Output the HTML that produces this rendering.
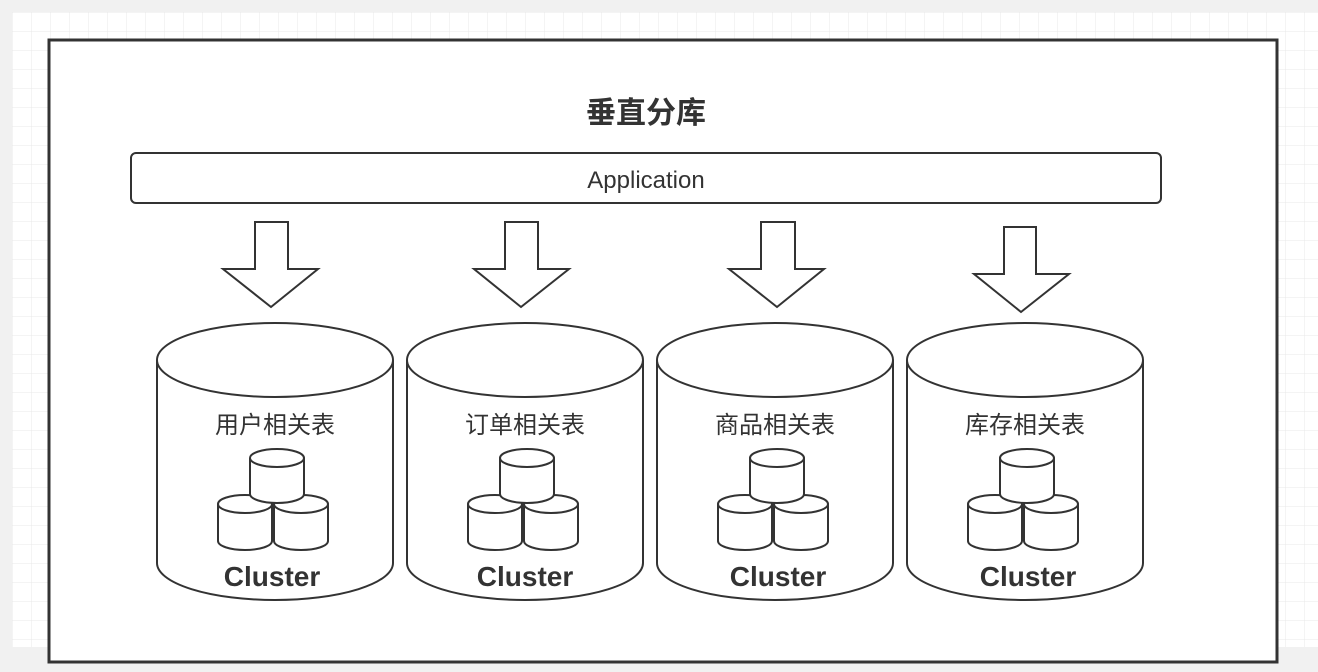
<!DOCTYPE html>
<html><head><meta charset="utf-8"><style>
html,body{margin:0;padding:0;background:#f1f1f1;}
svg{display:block}
text{font-family:"Liberation Sans","Noto Sans CJK SC",sans-serif;fill:#333}
</style></head><body>
<svg width="1318" height="672" viewBox="0 0 1318 672" xmlns="http://www.w3.org/2000/svg">
<defs>
<pattern id="g" x="12" y="12" width="19" height="19" patternUnits="userSpaceOnUse">
<rect width="19" height="19" fill="#fff"/>
<path d="M0 0H19M0 0V19" stroke="#e8e8e8" stroke-width="1"/>
</pattern>
</defs>
<rect x="12" y="12" width="1306" height="635" fill="url(#g)"/>
<rect x="49" y="40" width="1228" height="622" fill="#fff" stroke="#333" stroke-width="3"/>
<text x="646" y="123" font-size="30" font-weight="bold" text-anchor="middle">垂直分库</text>
<rect x="131" y="153" width="1030" height="50" rx="5" fill="#fff" stroke="#333" stroke-width="2"/>
<text x="646" y="188" font-size="24" text-anchor="middle">Application</text>
<g fill="#fff" stroke="#333" stroke-width="2">
<path d="M255 222H288V269H318L271 307L223 269H255Z"/>
<path d="M505 222H538V269H569L521 307L474 269H505Z"/>
<path d="M761 222H795V269H824L777 307L729 269H761Z"/>
<path d="M1004 227H1036V274H1069L1021 312L974 274H1004Z"/>
</g>
<g fill="#fff" stroke="#333" stroke-width="2">
<path d="M157 360A118 37 0 0 1 393 360V563A118 37 0 0 1 157 563Z"/>
<path d="M157 360A118 37 0 0 0 393 360"/>
<path d="M407 360A118 37 0 0 1 643 360V563A118 37 0 0 1 407 563Z"/>
<path d="M407 360A118 37 0 0 0 643 360"/>
<path d="M657 360A118 37 0 0 1 893 360V563A118 37 0 0 1 657 563Z"/>
<path d="M657 360A118 37 0 0 0 893 360"/>
<path d="M907 360A118 37 0 0 1 1143 360V563A118 37 0 0 1 907 563Z"/>
<path d="M907 360A118 37 0 0 0 1143 360"/>
</g>
<g font-size="24" text-anchor="middle">
<text x="275" y="433">用户相关表</text>
<text x="525" y="433">订单相关表</text>
<text x="775" y="433">商品相关表</text>
<text x="1025" y="433">库存相关表</text>
</g>
<g font-size="28" font-weight="bold" text-anchor="middle">
<text x="272" y="586">Cluster</text>
<text x="525" y="586">Cluster</text>
<text x="778" y="586">Cluster</text>
<text x="1028" y="586">Cluster</text>
</g>
<g id="sm" fill="#fff" stroke="#333" stroke-width="2">
<path d="M218 504A27 9 0 0 1 272 504V541A27 9 0 0 1 218 541Z"/><path d="M218 504A27 9 0 0 0 272 504"/>
<path d="M274 504A27 9 0 0 1 328 504V541A27 9 0 0 1 274 541Z"/><path d="M274 504A27 9 0 0 0 328 504"/>
<path d="M250 458A27 9 0 0 1 304 458V494A27 9 0 0 1 250 494Z"/><path d="M250 458A27 9 0 0 0 304 458"/>
</g>
<use href="#sm" x="250"/>
<use href="#sm" x="500"/>
<use href="#sm" x="750"/>
</svg>
</body></html>
